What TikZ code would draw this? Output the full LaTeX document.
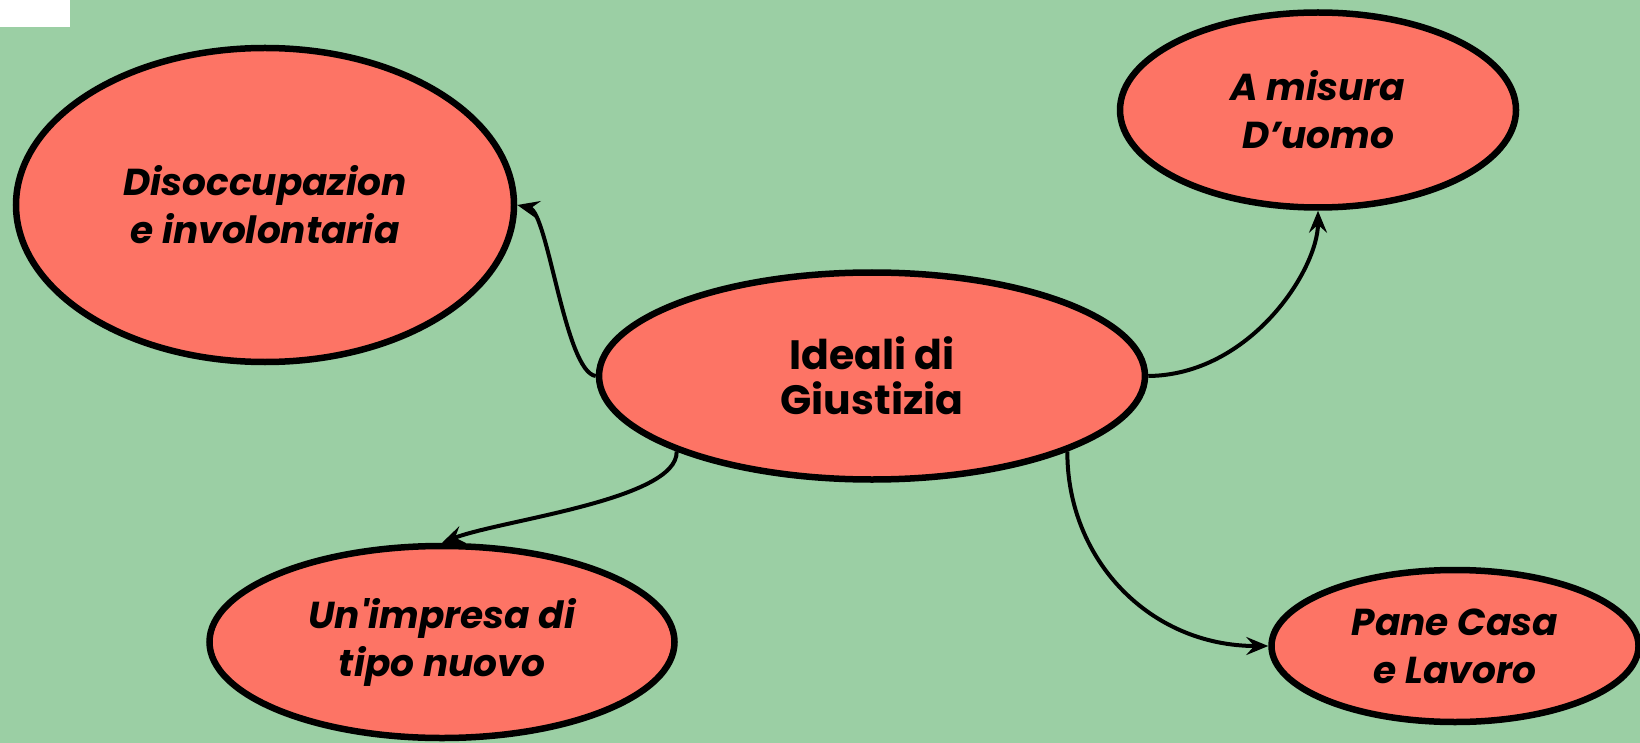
\documentclass[tikz,border=0pt]{standalone}
\usepackage{fontspec}
\newfontfamily\mapfont{Poppins}
\usetikzlibrary{arrows.meta}
\usetikzlibrary{shapes.geometric}

\definecolor{bggreen}{RGB}{155,207,164}
\definecolor{salmon}{RGB}{253,116,101}

\tikzset{
  bubble/.style={ellipse, draw=black, line width=6.5pt, fill=salmon, inner sep=0pt, align=center,
    font=\mapfont\bfseries\itshape\fontsize{37.5}{48}\selectfont},
  hub/.style={bubble, font=\mapfont\bfseries\fontsize{41}{45}\selectfont},
  link/.style={line width=4pt, -{Stealth[length=22pt, width=18pt, inset=8pt]}}
}

\begin{document}
\begin{tikzpicture}[x=1pt, y=-1pt]
      \fill[bggreen] (0,0) rectangle (1640,743);
      \useasboundingbox (0,0) rectangle (1640,743);
      \fill[white] (0,0) rectangle (70,27);

      \node[hub, minimum width=546pt, minimum height=207pt] (cen) at (872,376) {Ideali di\\Giustizia};
      \node[bubble, minimum width=498pt, minimum height=314pt] (dis) at (265,205) {Disoccupazion\\e involontaria};
      \node[bubble, minimum width=396pt, minimum height=195pt] (mis) at (1318,110) {A misura\\D’uomo};
      \node[bubble, minimum width=465pt, minimum height=192pt] (imp) at (442,642) {Un\textquotesingle impresa di\\tipo nuovo};
      \node[bubble, minimum width=367pt, minimum height=152pt] (pan) at (1455,646) {Pane Casa\\e Lavoro};

      \draw[link] (cen.west) .. controls (565,372) and (548,212) .. (dis.east);
      \draw[link] (cen.east) .. controls (1250,375) and (1318,270) .. (mis.south);
      \draw[link] (cen.south west) .. controls (678,500) and (500,520) .. (imp.north);
      \draw[link] (cen.south east) .. controls (1067,560) and (1150,646) .. (pan.west);
    \end{tikzpicture}
\end{document}
